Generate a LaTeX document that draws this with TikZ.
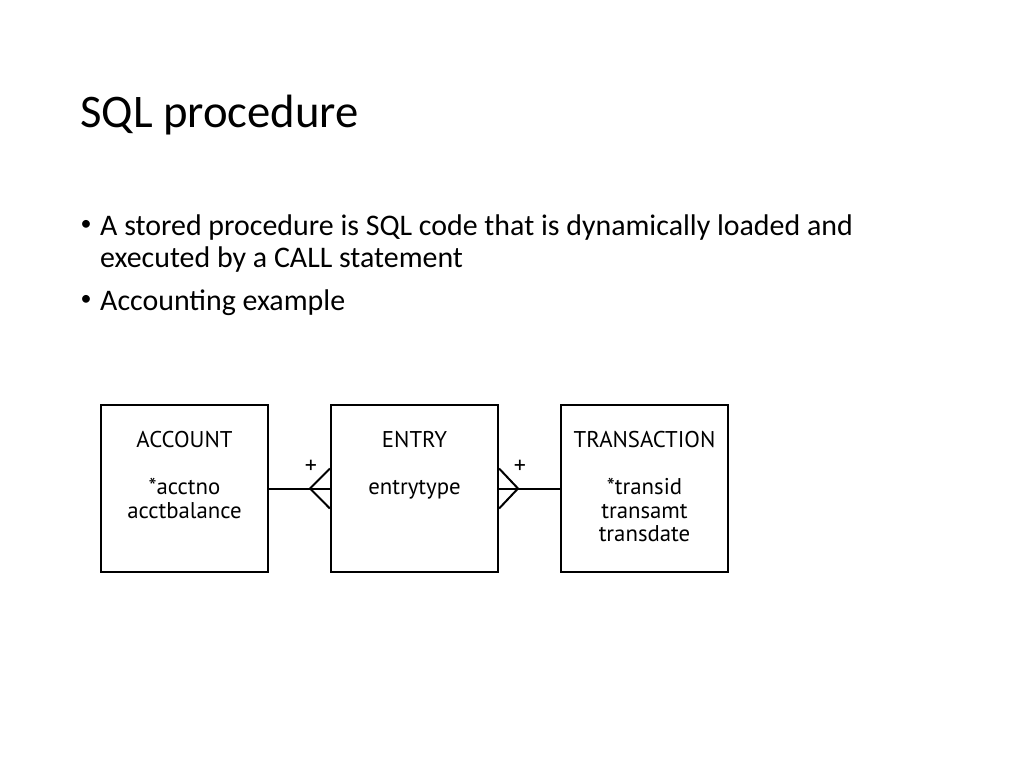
\documentclass[tikz,border=0pt]{standalone}
\usepackage{fontspec}
\setmainfont{Carlito}
\newfontfamily\boxfont{PT Sans}
\usetikzlibrary{positioning}

\begin{document}
\begin{tikzpicture}[x=1pt,y=-1pt,node distance=60.8pt,
  entity/.style={draw,line width=2.2pt,minimum width=167pt,minimum height=167pt,inner sep=0pt},
  fields/.style={align=center,font=\boxfont\fontsize{22.8}{23.5}\selectfont,inner sep=0pt,anchor=north},
  slide text/.style={anchor=base west,inner sep=0pt,font=\fontsize{29.9}{32}\selectfont},
  dot/.style={inner sep=0pt,font=\fontsize{22}{22}\selectfont},
  crow/.style={line width=2pt}]
  \useasboundingbox (0,0) rectangle (1024,768);

  % title and bullets
  \node[anchor=base west,inner sep=0pt,font=\fontsize{46.7}{50}\selectfont] (title) at (80,127) {SQL procedure};
  \node[dot] (b1) at (86,225) {\textbullet};
  \node[slide text] (t1) at (100,235) {A stored procedure is SQL code that is dynamically loaded and};
  \node[slide text] (t2) at (100,267) {executed by a CALL statement};
  \node[dot] (b2) at (86,300) {\textbullet};
  \node[slide text] (t3) at (100,310) {Accounting example};

  % entities
  \node[entity] (account) at (184.5,488.5) {};
  \node[entity] (entry) [right=of account] {};
  \node[entity] (transaction) [right=of entry] {};

  \node[fields] (account text) at ([yshift=-27pt]account.north) {ACCOUNT\\[24pt]*acctno\\acctbalance};
  \node[fields] (entry text) at ([yshift=-27pt]entry.north) {ENTRY\\[24pt]entrytype};
  \node[fields] (transaction text) at ([yshift=-27pt]transaction.north) {TRANSACTION\\[24pt]*transid\\transamt\\transdate};

  % relationships
  \coordinate (left foot) at (310,488.5);
  \coordinate (right foot) at (518,488.5);
  \draw[crow] (account.east) -- (entry.west);
  \draw[crow] ([yshift=20pt]entry.west) -- (left foot) -- ([yshift=-20pt]entry.west);
  \draw[crow] (entry.east) -- (transaction.west);
  \draw[crow] ([yshift=20pt]entry.east) -- (right foot) -- ([yshift=-20pt]entry.east);

  \node[font=\boxfont\fontsize{24}{24}\selectfont,inner sep=0pt] (left plus) at (311,467) {+};
  \node[font=\boxfont\fontsize{24}{24}\selectfont,inner sep=0pt] (right plus) at (520,467) {+};
\end{tikzpicture}
\end{document}
